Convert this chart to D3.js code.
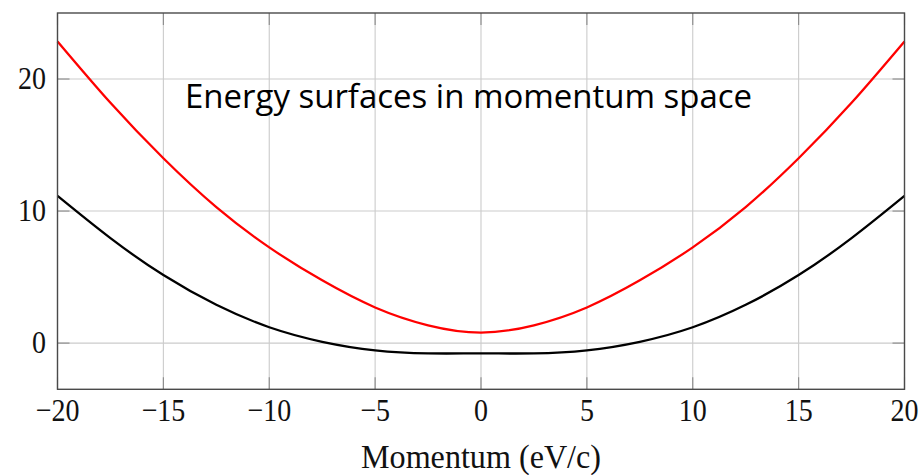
<!DOCTYPE html>
<html>
<head>
  <title>Energy surfaces</title>
  <script src="https://cdn.jsdelivr.net/npm/d3@7"></script>
  <style>
    body { margin: 0; background: #fff; }
  </style>
</head>
<body>
  <main id="container"></main>
  <script type="module">
    // momentum values (eV/c) and the two bands
    const momentum = [-20, -17.5, -15, -12.5, -10, -7.5, -5, -2.5, 0, 2.5, 5, 7.5, 10, 12.5, 15, 17.5, 20];
    const upperBand = [22.85, 18.2, 14.0, 10.3, 7.25, 4.75, 2.7, 1.35, 0.8, 1.35, 2.7, 4.75, 7.25, 10.3, 14.0, 18.2, 22.85];
    const lowerBand = [11.15, 7.95, 5.15, 2.9, 1.2, 0.1, -0.55, -0.78, -0.78, -0.78, -0.55, 0.1, 1.2, 2.9, 5.15, 7.95, 11.15];
    const xTicks = [-20, -15, -10, -5, 0, 5, 10, 15, 20];
    const yTicks = [0, 10, 20];

    const vizWidth = 921;
    const vizHeight = 475;
    const left = 57.5, right = 904.5, top = 13, bottom = 389.3;

    const svg = d3.select("#container")
      .append("svg")
      .attr("width", vizWidth)
      .attr("height", vizHeight)

    const x = d3.scaleLinear().domain([-20, 20]).range([left, right])
    const y = d3.scaleLinear().domain([-3.5, 25]).range([bottom, top])

    // grid
    svg.append("g")
      .selectAll("line")
      .data(xTicks)
      .join("line")
      .attr("x1", d => x(d)).attr("x2", d => x(d))
      .attr("y1", top).attr("y2", bottom)
      .attr("stroke", "#cbcbcb")
      .attr("stroke-width", 1.1)

    svg.append("g")
      .selectAll("line")
      .data(yTicks)
      .join("line")
      .attr("x1", left).attr("x2", right)
      .attr("y1", d => y(d)).attr("y2", d => y(d))
      .attr("stroke", "#cbcbcb")
      .attr("stroke-width", 1.1)

    // inside ticks on all four sides
    const tickLen = 12;
    const ticks = svg.append("g").attr("stroke", "#8a8a8a").attr("stroke-width", 1.1)
    xTicks.forEach(t => {
      ticks.append("line").attr("x1", x(t)).attr("x2", x(t)).attr("y1", bottom).attr("y2", bottom - tickLen)
      ticks.append("line").attr("x1", x(t)).attr("x2", x(t)).attr("y1", top).attr("y2", top + tickLen)
    })
    yTicks.forEach(t => {
      ticks.append("line").attr("x1", left).attr("x2", left + tickLen).attr("y1", y(t)).attr("y2", y(t))
      ticks.append("line").attr("x1", right).attr("x2", right - tickLen).attr("y1", y(t)).attr("y2", y(t))
    })

    // curves
    const line = d3.line()
      .x(d => x(d[0]))
      .y(d => y(d[1]))
      .curve(d3.curveNatural)

    svg.append("path")
      .datum(d3.zip(momentum, lowerBand))
      .attr("d", line)
      .attr("fill", "none")
      .attr("stroke", "#000")
      .attr("stroke-width", 2.3)

    svg.append("path")
      .datum(d3.zip(momentum, upperBand))
      .attr("d", line)
      .attr("fill", "none")
      .attr("stroke", "#ff0000")
      .attr("stroke-width", 2.3)

    // frame
    svg.append("rect")
      .attr("x", left).attr("y", top)
      .attr("width", right - left).attr("height", bottom - top)
      .attr("fill", "none")
      .attr("stroke", "#4a4a4a")
      .attr("stroke-width", 1.4)

    const fmt = d => (d < 0 ? "\u2212" + Math.abs(d) : String(d))

    // tick labels
    svg.append("g")
      .selectAll("text")
      .data(xTicks)
      .join("text")
      .attr("transform", d => `translate(${x(d)},${421}) scale(1,1.15)`)
      .attr("text-anchor", "middle")
      .attr("font-family", "'Liberation Serif', serif")
      .attr("font-size", 28)
      .attr("fill", "#111")
      .text(fmt)

    svg.append("g")
      .selectAll("text")
      .data(yTicks)
      .join("text")
      .attr("transform", d => `translate(46,${y(d) + 10}) scale(1,1.15)`)
      .attr("text-anchor", "end")
      .attr("font-family", "'Liberation Serif', serif")
      .attr("font-size", 28)
      .attr("fill", "#111")
      .text(fmt)

    // axis title
    svg.append("text")
      .attr("transform", `translate(${x(0)},${468}) scale(1,1.1)`)
      .attr("text-anchor", "middle")
      .attr("font-family", "'Liberation Serif', serif")
      .attr("font-size", 30)
      .attr("textLength", 240)
      .attr("lengthAdjust", "spacingAndGlyphs")
      .attr("fill", "#111")
      .text("Momentum (eV/c)")

    // title inside the plot
    svg.append("text")
      .attr("x", 185)
      .attr("y", 108)
      .attr("font-family", "'Open Sans', sans-serif")
      .attr("font-size", 32)
      .attr("textLength", 567)
      .attr("lengthAdjust", "spacingAndGlyphs")
      .attr("fill", "#000")
      .text("Energy surfaces in momentum space")
  </script>
</body>
</html>
